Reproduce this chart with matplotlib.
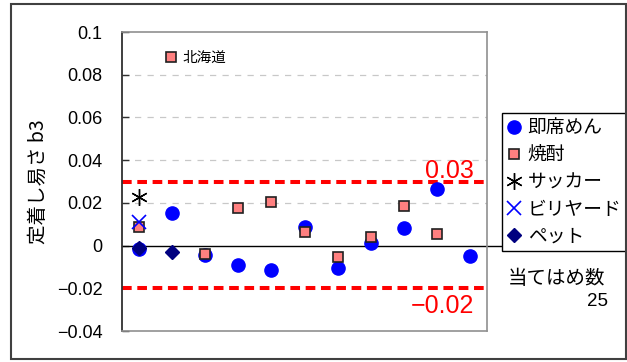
import numpy as np
import matplotlib.pyplot as plt
from matplotlib.patches import Rectangle

plt.rcParams['font.family'] = ['Liberation Sans', 'Noto Sans CJK JP', 'DejaVu Sans']
JP = ['Noto Sans CJK JP', 'Liberation Sans', 'DejaVu Sans']

# --- data: 11 regions, fitted coefficient b3 per item ---
x_pos = np.arange(11) + 0.5
instant_noodle = [-0.0015, 0.0153, -0.0044, -0.0090, -0.0114, 0.0087,
                  -0.0103, 0.0014, 0.0082, 0.0263, -0.0049]
shochu = [0.0088, np.nan, -0.0041, 0.0177, 0.0203, 0.0062,
          -0.0053, 0.0042, 0.0187, 0.0053, np.nan]
soccer = [0.0229] + [np.nan] * 10
billiards = [0.0112] + [np.nan] * 10
pet = [-0.0013, -0.0029] + [np.nan] * 9

upper_limit = 0.03
lower_limit = -0.02
n_fit = 25

yticks = [-0.04, -0.02, 0, 0.02, 0.04, 0.06, 0.08, 0.1]
ytick_labels = ['\u22120.04', '\u22120.02', '0', '0.02', '0.04', '0.06', '0.08', '0.1']

# ---------------------------------------------------------
fig = plt.figure(figsize=(6.27, 3.62), dpi=100)
ax = fig.add_axes([122 / 627, 1 - 331 / 362, 365 / 627, 299 / 362])

# outer frame around the whole chart
fig.patches.append(Rectangle((11 / 627, 1 - 359 / 362), 615 / 627, 355 / 362,
                             transform=fig.transFigure, fill=False,
                             edgecolor='#404040', linewidth=1.5))

for y in [0.02, 0.04, 0.06, 0.08]:
    ax.axhline(y, color='#c8c8c8', lw=0.9, dashes=(5, 5), zorder=1)
ax.axhline(0, xmin=0, xmax=1.037, color='black', lw=1.0, clip_on=False, zorder=2)
for y in (upper_limit, lower_limit):
    ax.axhline(y, color='#ff0000', lw=2.9, dashes=(2.4, 1.4), zorder=2)

ax.plot(x_pos, instant_noodle, 'o', color='#0000ff', ms=9.5, ls='none',
        zorder=3, label='即席めん')
ax.plot(x_pos, shochu, 's', mfc='#ff8080', mec='#202020', mew=1.2, ms=7.5,
        ls='none', zorder=4, label='焼酎')
ax.plot(x_pos, soccer, marker=(6, 2, 0), color='black', ms=12, mew=1.0,
        ls='none', zorder=4, label='サッカー')
ax.plot(x_pos, billiards, 'x', color='#0000ff', ms=10, mew=1.2,
        ls='none', zorder=5, label='ビリヤード')
ax.plot(x_pos, pet, 'D', color='#000080', ms=7, ls='none',
        zorder=3, label='ペット')

ax.set_xlim(0, 11)
ax.set_ylim(-0.04, 0.1)
ax.set_xticks([])
ax.set_yticks(yticks)
ax.set_yticklabels(ytick_labels)
ax.tick_params(axis='y', direction='in', length=5, width=1, color='#303030',
               pad=14, labelsize=13)

for side in ('top', 'right', 'bottom'):
    ax.spines[side].set_color('#909090')
    ax.spines[side].set_linewidth(1.2)
ax.spines['left'].set_color('#303030')
ax.spines['left'].set_linewidth(1.3)

ax.set_ylabel('定着し易さ b3', family=JP, fontsize=14, labelpad=6)

# threshold labels
ax.annotate(f'{upper_limit:.2f}', (0.965, upper_limit), xycoords=('axes fraction', 'data'),
            xytext=(0, 2.5), textcoords='offset points', ha='right', va='baseline',
            color='#ff0000', fontsize=18)
ax.annotate(f'\u2212{abs(lower_limit):.2f}', (0.965, lower_limit),
            xycoords=('axes fraction', 'data'), xytext=(0, -17.5),
            textcoords='offset points', ha='right', va='baseline',
            color='#ff0000', fontsize=18)

# region tag
ax.plot([0.134], [0.915], 's', transform=ax.transAxes, mfc='#ff8080',
        mec='#202020', mew=1.2, ms=7.5, clip_on=False)
ax.text(0.166, 0.915, '北海道', transform=ax.transAxes, family=JP,
        fontsize=10.5, va='center', ha='left')

leg = ax.legend(loc='upper left', bbox_to_anchor=(502 / 627, 1 - 113 / 362),
                bbox_transform=fig.transFigure, borderaxespad=0,
                prop={'family': JP, 'size': 13.5}, frameon=True, fancybox=False,
                edgecolor='black', framealpha=1, handlelength=0.8,
                handletextpad=0.35, borderpad=0.22, labelspacing=0.33)
leg.get_frame().set_linewidth(1.0)

fig.text(508 / 627, 1 - 278 / 362, '当てはめ数', family=JP, fontsize=14,
         va='center', ha='left')
fig.text(608 / 627, 1 - 301 / 362, str(n_fit), fontsize=13.5,
         va='center', ha='right')

fig.savefig('out.png', dpi=100)
